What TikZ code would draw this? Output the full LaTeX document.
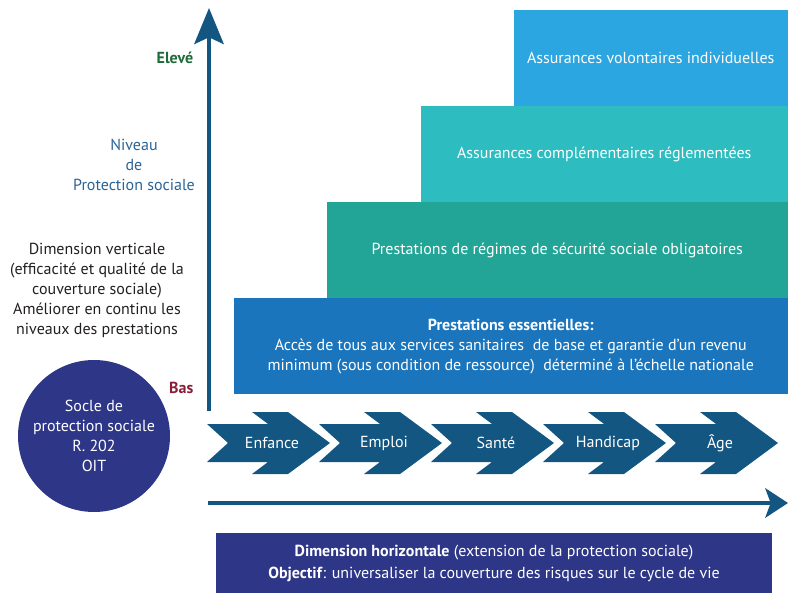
\documentclass[tikz,border=0pt]{standalone}
\usepackage{fontspec}
\setmainfont{PT Sans}
\usetikzlibrary{arrows.meta,positioning}
\definecolor{axis}{HTML}{135682}
\definecolor{indigo}{HTML}{2E3687}
\definecolor{lvlone}{HTML}{1B75BC}
\definecolor{lvltwo}{HTML}{22A596}
\definecolor{lvlthree}{HTML}{2DBDC1}
\definecolor{lvlfour}{HTML}{2CA6E0}
\definecolor{high}{HTML}{1E6B3A}
\definecolor{low}{HTML}{8B1D3B}
\definecolor{niveau}{HTML}{2A6496}
\definecolor{ink}{HTML}{231F20}
\newcommand{\txt}{\fontsize{12}{15}\selectfont}

\begin{document}
\begin{tikzpicture}[x=0.75pt,y=-0.75pt,
  level/.style={fill=#1,text=white,anchor=north east,minimum height=72pt,inner sep=0pt,align=center,font=\txt},
  stage/.style={text=white,font=\txt},
  note/.style={align=center,font=\txt,text=ink},
  axisline/.style={draw=axis,line width=3pt}]
\useasboundingbox (0,0) rectangle (788,595);
% levels of protection
\node[level=lvlfour,minimum width=205.5pt] (volont) at (788,10) {Assurances volontaires individuelles};
\node[level=lvlthree,minimum width=275.25pt] (compl) at (788,106) {Assurances complémentaires réglementées};
\node[level=lvltwo,minimum width=345.75pt] (oblig) at (788,202) {Prestations de régimes de sécurité sociale obligatoires};
\node[level=lvlone,minimum width=415.5pt] (essent) at (788,298) {\textbf{Prestations essentielles:}\\Accès de tous aux services sanitaires\ \ de base et garantie d’un revenu\\minimum (sous condition de ressource)\ \ déterminé à l’échelle nationale};
% axes
\coordinate (ybot) at (209,411);
\coordinate (ytop) at (209,8);
\coordinate (xleft) at (208,503);
\coordinate (xright) at (788,503);
\draw[axisline,-{Stealth[length=27pt,width=22pt,inset=5pt]}] (ybot)--(ytop);
\draw[axisline,-{Stealth[length=17pt,width=22pt,inset=4pt]}] (xleft)--(xright);
\node[font=\txt\bfseries,text=high,anchor=east] (eleve) at (198,58) {Elevé};
\node[font=\txt\bfseries,text=low,anchor=east] (bas) at (198,388) {Bas};
\node[align=center,font=\txt,text=niveau] (niv) at (134,165) {Niveau\\de\\Protection sociale};
\node[note] (vert) at (97,290) {Dimension verticale\\(efficacité et qualité de la\\couverture sociale)\\Améliorer en continu les\\niveaux des prestations};
% life cycle
\foreach \lab [count=\i from 0] in {Enfance,Emploi,Santé,Handicap,Âge}{
  \fill[axis,shift={(207+112*\i,443)}] (0,-19)--(61,-19)--(45,-31)--(81,-31)--(123,0)--(81,31)--(45,31)--(61,19)--(0,19)--(21,0)--cycle;
  \node[stage] (stage\i) at (272+112*\i,443) {\lab};
}
\node[circle,fill=indigo,text=white,minimum size=114pt,inner sep=0pt,align=center,font=\txt] (socle) at (94,436) {Socle de\\protection sociale\\R. 202\\OIT};
\node[fill=indigo,text=white,minimum width=417pt,minimum height=45pt,inner sep=0pt,align=center,font=\fontsize{12}{16.5}\selectfont] (horiz) at (494,563) {\textbf{Dimension horizontale} (extension de la protection sociale)\\\textbf{Objectif}: universaliser la couverture des risques sur le cycle de vie};
\end{tikzpicture}
\end{document}
